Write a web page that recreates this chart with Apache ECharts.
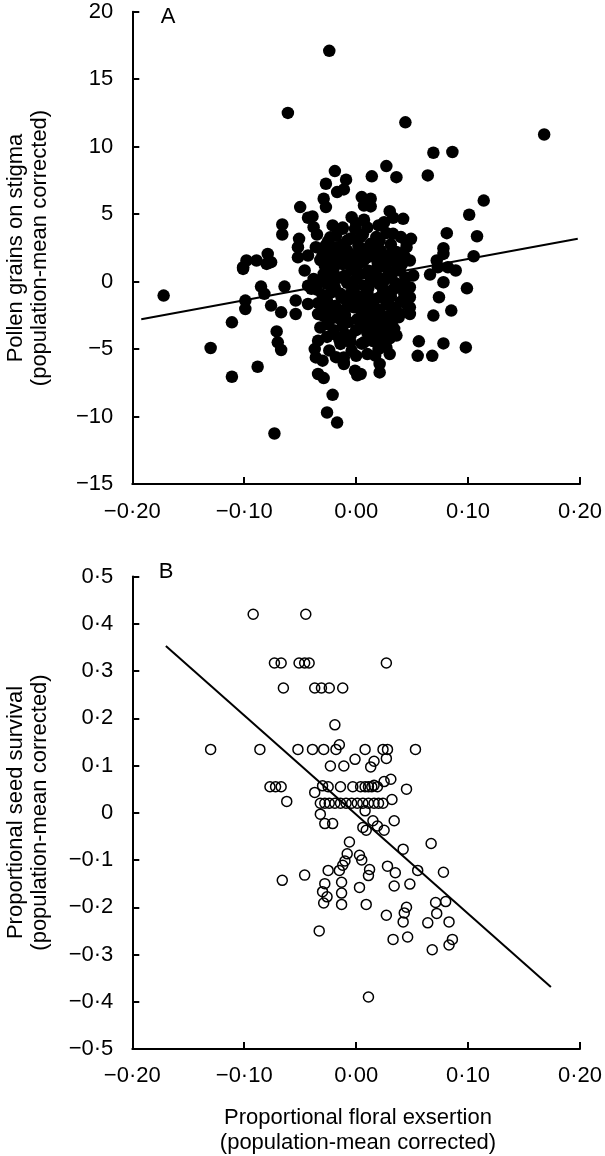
<!DOCTYPE html>
<html>
<head>
<meta charset="utf-8">
<script src="https://cdn.jsdelivr.net/npm/echarts@6/dist/echarts.min.js"></script>
<style>
html,body{margin:0;padding:0;background:#fff;}
#chart{width:605px;height:1156px;}
</style>
</head>
<body>
<div id="chart"></div>
<script>
// ---------- DATA ----------
// Panel A: proportional floral exsertion (x) vs pollen grains on stigma (y)
const pollenPoints = [
[-0.024,17.1],[-0.061,12.5],[0.044,11.8],[0.168,10.9],[0.069,9.55],[0.086,9.6],[0.027,8.56],[0.064,7.87],[0.036,7.74],[0.014,7.8],
[-0.019,8.19],[-0.009,7.55],[-0.027,7.25],[-0.017,6.63],[-0.011,6.83],[-0.029,6.14],[-0.027,5.52],[-0.050,5.52],[0.005,6.26],[0.013,6.14],
[0.007,5.64],[0.013,5.57],[0.114,6.0],[0.101,4.95],[0.030,5.22],[0.033,4.73],[0.042,4.65],[-0.043,4.73],[-0.039,4.83],[-0.066,4.23],
[-0.066,3.49],[-0.004,4.77],[0.007,4.58],[-0.038,4.03],[-0.035,3.49],[-0.021,4.16],[-0.012,3.91],[-0.001,3.91],[0.020,4.16],[0.033,3.54],
[0.108,3.36],[0.081,3.59],[0.049,3.17],[0.045,2.55],
[-0.051,3.17],[-0.036,2.55],[-0.023,3.29],[-0.017,2.55],[-0.008,3.04],[0.004,3.29],[0.013,2.8],[0.021,3.04],[-0.052,2.55],[-0.052,1.8],
[-0.043,1.93],[-0.079,2.05],[-0.076,1.44],[-0.089,1.56],[-0.098,1.56],[-0.101,1.06],[-0.080,1.31],
[-0.026,1.56],[-0.014,1.8],[-0.002,1.31],[0.010,1.8],[0.019,1.06],[0.029,1.8],[0.036,1.31],[-0.046,0.82],[-0.038,0.2],[-0.029,0.57],
[-0.017,0.32],[0.004,0.57],[0.013,0.32],[0.025,0.07],[0.039,0.82],
[0.105,1.88],[0.078,2.47],[0.078,2.05],[0.072,1.56],[0.073,1.06],[0.066,0.52],[0.078,-0.05],[0.089,0.82],[0.082,1.06],[0.099,-0.5],
[0.074,-1.16],[0.085,-2.15],[0.069,-2.52],[0.056,-4.43],[0.078,-4.58],[0.098,-4.88],[0.055,-5.5],[0.068,-5.5],
[0.051,0.45],[0.048,1.56],[0.048,-0.42],[0.048,-1.16],[0.048,-1.91],[0.048,-2.4],[0.046,-1.78],[0.041,-0.42],[0.038,-2.65],
[-0.085,-0.37],[-0.064,-0.37],[-0.043,-0.3],[-0.099,-1.41],[-0.099,-2.03],[-0.111,-3.02],[-0.111,-7.05],[-0.088,-6.31],[-0.073,-11.26],
[-0.071,-3.69],[-0.070,-4.5],[-0.067,-5.07],[-0.076,-1.78],[-0.067,-2.28],[-0.054,-2.4],[-0.054,-1.41],[-0.040,-0.54],[-0.043,-1.66],
[-0.034,-2.4],[-0.034,-4.38],[-0.037,-5.0],[-0.036,-5.62],[-0.030,-5.86],[-0.034,-6.85],[-0.029,-7.15],[-0.021,-8.39],[-0.026,-9.7],
[-0.017,-10.45],
[-0.026,-3.14],[-0.020,-3.88],[-0.014,-4.62],[-0.011,-5.62],[-0.011,-6.11],[-0.001,-6.6],[0.004,-6.85],[0.001,-6.95],[0.021,-6.73],
[0.021,-6.11],[-0.004,-5.12],[0.010,-5.37],[0.017,-5.49],[0.030,-5.37],[0.027,-4.88],[0.024,-3.39],[0.027,-3.88],[0.016,-4.0],
[0.007,-4.5],[0.004,-3.39],[0.013,-2.65],[-0.002,-1.91],[-0.017,-2.28],[-0.026,-1.41],[-0.014,-0.91],[0.010,-0.91],[0.021,-1.17],
[0.033,-1.91],[0.039,-2.4],[0.039,-0.42],[-0.026,-0.17],
[-0.172,-1.04],[-0.130,-4.92],[-0.101,0.94],[-0.082,-0.91],[-0.011,-5.99],
[-0.030,2.0],[-0.022,2.2],[-0.015,1.9],[-0.008,2.3],[0.000,2.0],[0.008,2.4],[0.015,2.1],[0.022,2.3],[0.030,2.0],[0.036,2.2],
[-0.028,1.2],[-0.020,1.0],[-0.012,1.3],[-0.004,0.9],[0.004,1.4],[0.011,0.8],[0.019,1.5],[0.026,1.1],[0.033,0.7],[0.041,1.3],
[-0.032,0.0],[-0.024,-0.2],[-0.016,0.3],[-0.008,-0.1],[0.000,0.2],[0.007,-0.3],[0.014,0.1],[0.021,-0.2],[0.028,0.4],[0.035,-0.1],
[-0.030,-1.0],[-0.022,-0.8],[-0.013,-1.2],[-0.005,-0.9],[0.003,-1.1],[0.010,-0.7],[0.017,-1.3],[0.024,-0.9],[0.031,-1.1],[0.043,-0.9],
[-0.027,-2.0],[-0.019,-1.8],[-0.011,-2.1],[-0.003,-1.7],[0.005,-2.2],[0.012,-1.9],[0.020,-2.1],[0.027,-1.7],[0.035,-2.0],
[-0.024,-2.9],[-0.016,-2.7],[-0.007,-3.0],[0.001,-2.8],[0.009,-3.1],[0.017,-2.9],[0.025,-2.7],[0.032,-3.0],
[-0.020,-3.6],[-0.010,-3.9],[0.000,-3.6],[0.010,-3.8],[0.020,-3.5],[0.030,-4.2],
[-0.005,-4.5],[0.005,-4.6],[0.015,-4.4],[-0.015,-4.3],
[-0.025,3.0],[-0.018,3.4],[-0.005,3.2],[0.006,3.5],[0.018,3.3],[0.027,3.6],[0.040,3.3],[0.045,2.9],
[-0.012,4.0],[0.000,4.3],[0.010,4.0],[0.025,4.4],
[-0.027,2.7],[-0.012,2.75],[0.002,2.65],[0.017,2.7],[0.031,2.75],
[-0.032,1.6],[-0.018,1.55],[-0.006,1.65],[0.007,1.6],[0.022,1.65],[0.034,1.6],[0.043,1.9],
[-0.021,0.55],[-0.010,0.45],[0.000,0.8],[0.018,0.5],[0.031,0.45],[0.044,0.3],
[-0.035,-0.6],[-0.019,-0.45],[-0.002,-0.5],[0.011,-0.45],[0.024,-0.55],[0.033,-0.6],
[-0.034,-1.6],[-0.008,-1.45],[0.007,-1.55],[0.015,-1.7],[0.028,-1.45],[0.040,-1.5],
[-0.030,-2.5],[-0.021,-2.4],[-0.010,-2.45],[0.008,-2.4],[0.022,-2.45],[0.030,-2.5],
[-0.032,-3.4],[-0.012,-3.3],[0.014,-3.35],[0.034,-3.5],
[-0.026,-4.1],[-0.005,-4.0],[0.022,-4.3],[0.036,-4.0],
[-0.024,-5.1],[0.000,-5.5],[0.020,-5.0],[-0.018,-5.6]
];
// Panel A regression line endpoints
const pollenFit = [[-0.192,-2.79],[0.198,3.17]];

// Panel B: proportional floral exsertion (x) vs proportional seed survival (y)
const seedPoints = [
[-0.092,0.42],[-0.045,0.42],
[-0.073,0.317],[-0.067,0.317],[-0.051,0.317],[-0.046,0.317],[-0.042,0.317],[0.027,0.317],
[-0.065,0.264],[-0.037,0.264],[-0.031,0.264],[-0.024,0.264],[-0.012,0.264],
[-0.019,0.186],
[-0.130,0.134],[-0.086,0.134],[-0.052,0.134],[-0.039,0.134],[-0.029,0.134],[-0.018,0.134],[-0.015,0.144],[0.008,0.134],[0.024,0.134],[0.028,0.134],[0.053,0.134],
[0.027,0.115],[-0.001,0.113],[0.016,0.109],[-0.023,0.099],[-0.011,0.099],[0.013,0.097],
[0.031,0.071],[0.025,0.066],[0.045,0.05],
[-0.077,0.055],[-0.072,0.055],[-0.067,0.055],[-0.030,0.057],[-0.025,0.055],[-0.014,0.055],[-0.003,0.055],[0.004,0.055],[0.008,0.055],[0.011,0.055],[0.014,0.055],[0.019,0.055],[0.016,0.058],
[-0.062,0.024],[-0.037,0.043],
[-0.032,0.02],[-0.028,0.02],[-0.024,0.02],[-0.019,0.02],[-0.014,0.02],[-0.009,0.02],[-0.004,0.02],[0.001,0.02],[0.006,0.02],[0.011,0.02],[0.016,0.02],[0.020,0.02],[0.024,0.02],
[0.032,0.028],
[-0.032,-0.003],[-0.028,-0.023],[-0.021,-0.023],[0.008,0.004],[0.006,-0.031],[0.009,-0.037],[0.015,-0.017],[0.019,-0.028],[0.025,-0.037],[0.034,-0.017],
[-0.006,-0.062],[0.067,-0.065],[0.042,-0.077],
[-0.008,-0.087],[0.003,-0.09],[0.005,-0.1],[-0.010,-0.102],[-0.012,-0.111],[-0.015,-0.122],[-0.025,-0.122],[0.012,-0.12],[0.028,-0.113],[0.035,-0.127],[0.055,-0.122],[0.078,-0.126],
[-0.066,-0.143],[-0.046,-0.132],[-0.028,-0.15],[-0.013,-0.147],[0.003,-0.158],[0.011,-0.133],[0.034,-0.155],[0.048,-0.151],
[-0.030,-0.167],[-0.026,-0.178],[-0.029,-0.191],[-0.013,-0.17],[-0.013,-0.194],[0.009,-0.194],
[0.027,-0.217],[0.045,-0.2],[0.043,-0.212],[0.042,-0.231],[0.046,-0.263],[0.033,-0.268],
[0.071,-0.19],[0.080,-0.188],[0.072,-0.213],[0.064,-0.233],[0.083,-0.231],[0.086,-0.268],[0.083,-0.28],[0.068,-0.29],
[-0.033,-0.25],[0.011,-0.39]
];
// Panel B regression line endpoints
const seedFit = [[-0.170,0.353],[0.174,-0.369]];

// Tick labels
const xTickLabels = ['\u22120\u00b720','\u22120\u00b710','0\u00b700','0\u00b710','0\u00b720'];
const yTickLabelsA = ['\u221215','\u221210','\u22125','0','5','10','15','20'];
const yTickLabelsB = ['\u22120\u00b75','\u22120\u00b74','\u22120\u00b73','\u22120\u00b72','\u22120\u00b71','0','0\u00b71','0\u00b72','0\u00b73','0\u00b74','0\u00b75'];

// ---------- CHART ----------
const FONT = '"Liberation Sans", Arial, Helvetica, sans-serif';
const chart = echarts.init(document.getElementById('chart'), null, {renderer: 'canvas'});

function xAxisCfg(gridIndex, margin) {
  return {
    type: 'value', gridIndex: gridIndex, min: -0.2, max: 0.2, interval: 0.1,
    axisLine: {show: true, onZero: false, lineStyle: {color: '#000', width: 2}},
    axisTick: {show: true, inside: true, length: 7, lineStyle: {color: '#000', width: 2}},
    splitLine: {show: false},
    axisLabel: {
      color: '#000', fontSize: 22, fontFamily: FONT, margin: margin,
      formatter: function (v) { return xTickLabels[Math.round((v + 0.2) / 0.1)]; }
    }
  };
}
function yAxisCfg(gridIndex, min, max, interval, labels) {
  return {
    type: 'value', gridIndex: gridIndex, min: min, max: max, interval: interval,
    axisLine: {show: true, onZero: false, lineStyle: {color: '#000', width: 2}},
    axisTick: {show: true, inside: true, length: 7, lineStyle: {color: '#000', width: 2}},
    splitLine: {show: false},
    axisLabel: {
      color: '#000', fontSize: 22, fontFamily: FONT, margin: 19,
      formatter: function (v) { return labels[Math.round((v - min) / interval)]; }
    }
  };
}

function vText(x, y, text) {
  return {type: 'text', x: x, y: y, rotation: Math.PI / 2, silent: true,
    style: {text: text, fill: '#000', font: '22px ' + FONT, align: 'center', verticalAlign: 'middle'}};
}
function hText(x, y, text) {
  return {type: 'text', x: x, y: y, silent: true,
    style: {text: text, fill: '#000', font: '22px ' + FONT, align: 'center', verticalAlign: 'middle'}};
}

chart.setOption({
  animation: false,
  backgroundColor: '#fff',
  grid: [
    {left: 132.3, top: 11.7, width: 449.7, height: 472.3},
    {left: 132.3, top: 576.5, width: 449.7, height: 472.5}
  ],
  xAxis: [xAxisCfg(0, 17), xAxisCfg(1, 16)],
  yAxis: [
    yAxisCfg(0, -15, 20, 5, yTickLabelsA),
    yAxisCfg(1, -0.5, 0.5, 0.1, yTickLabelsB)
  ],
  series: [
    {type: 'scatter', xAxisIndex: 0, yAxisIndex: 0, data: pollenPoints,
     symbol: 'circle', symbolSize: 12.5, itemStyle: {color: '#000', opacity: 1}, z: 2},
    {type: 'line', xAxisIndex: 0, yAxisIndex: 0, data: pollenFit, showSymbol: false,
     lineStyle: {color: '#000', width: 2}, z: 3},
    {type: 'scatter', xAxisIndex: 1, yAxisIndex: 1, data: seedPoints,
     symbol: 'circle', symbolSize: 10,
     itemStyle: {color: 'rgba(255,255,255,0)', borderColor: '#000', borderWidth: 1.5, opacity: 1}, z: 2},
    {type: 'line', xAxisIndex: 1, yAxisIndex: 1, data: seedFit, showSymbol: false,
     lineStyle: {color: '#000', width: 2}, z: 3}
  ],
  graphic: [
    hText(168, 17, 'A'),
    hText(166, 572, 'B'),
    vText(16, 248, 'Pollen grains on stigma'),
    vText(40, 248, '(population-mean corrected)'),
    vText(16, 812.5, 'Proportional seed survival'),
    vText(40, 812.5, '(population-mean corrected)'),
    hText(358, 1118, 'Proportional floral exsertion'),
    hText(358, 1143, '(population-mean corrected)')
  ]
});
</script>
</body>
</html>
